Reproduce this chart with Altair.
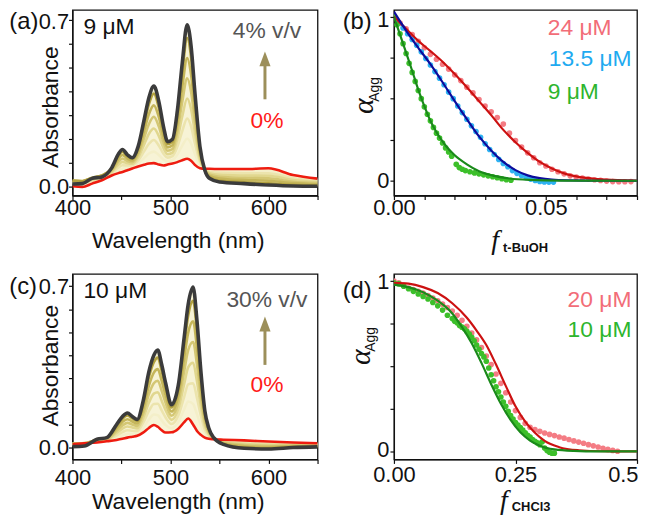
import altair as alt
import pandas as pd

FONT = "Liberation Sans"
SERIF = "Liberation Serif"

# ---------------- panel (a): 9 uM, t-BuOH 0 -> 4 % v/v ----------------
wl_a = [400, 410, 420, 430, 440, 447, 451, 456, 461, 467, 473, 478, 483, 488, 493,
        497, 502, 507, 512, 517, 521, 525, 530, 535, 540, 550, 575, 600, 625, 650]
red_a = [0.003, 0.000, 0.014, 0.028, 0.048, 0.058, 0.063, 0.070, 0.077, 0.086, 0.093, 0.098, 0.100, 0.094, 0.090,
         0.094, 0.098, 0.104, 0.112, 0.118, 0.110, 0.092, 0.078, 0.076, 0.076, 0.075, 0.075, 0.078, 0.050, 0.035]
gray_a = [0.012, 0.014, 0.036, 0.042, 0.080, 0.139, 0.157, 0.135, 0.122, 0.170, 0.280, 0.375, 0.423, 0.360, 0.250,
          0.190, 0.200, 0.320, 0.520, 0.680, 0.590, 0.390, 0.170, 0.070, 0.035, 0.021, 0.014, 0.008, 0.004, 0.003]
a_mid1 = [0.018, 0.012, 0.022, 0.034, 0.053, 0.070, 0.077, 0.080, 0.084, 0.099, 0.121, 0.140, 0.148, 0.134, 0.114,
          0.108, 0.113, 0.136, 0.173, 0.202, 0.182, 0.137, 0.092, 0.075, 0.070, 0.067, 0.066, 0.068, 0.043, 0.030]
a_mid2 = [0.021, 0.016, 0.026, 0.038, 0.058, 0.082, 0.091, 0.090, 0.091, 0.111, 0.149, 0.181, 0.197, 0.174, 0.138,
          0.123, 0.129, 0.169, 0.234, 0.287, 0.254, 0.181, 0.106, 0.074, 0.064, 0.059, 0.057, 0.057, 0.036, 0.025]
a_mid3 = [0.024, 0.020, 0.030, 0.042, 0.063, 0.094, 0.105, 0.099, 0.097, 0.124, 0.177, 0.223, 0.245, 0.214, 0.162,
          0.137, 0.144, 0.201, 0.296, 0.371, 0.326, 0.226, 0.119, 0.073, 0.058, 0.051, 0.048, 0.047, 0.029, 0.021]
a_mid4 = [0.026, 0.023, 0.034, 0.045, 0.068, 0.107, 0.119, 0.109, 0.104, 0.136, 0.205, 0.264, 0.294, 0.254, 0.186,
          0.152, 0.159, 0.234, 0.357, 0.455, 0.398, 0.271, 0.133, 0.072, 0.051, 0.043, 0.038, 0.036, 0.022, 0.016]
a_mid5 = [0.027, 0.025, 0.037, 0.048, 0.073, 0.119, 0.134, 0.119, 0.111, 0.149, 0.233, 0.306, 0.342, 0.294, 0.210,
          0.166, 0.175, 0.266, 0.418, 0.540, 0.470, 0.316, 0.147, 0.071, 0.045, 0.035, 0.029, 0.026, 0.016, 0.011]
a_mid6 = [0.026, 0.024, 0.039, 0.048, 0.078, 0.131, 0.148, 0.129, 0.118, 0.162, 0.261, 0.347, 0.391, 0.333, 0.234,
          0.180, 0.190, 0.298, 0.479, 0.624, 0.542, 0.360, 0.161, 0.070, 0.039, 0.026, 0.020, 0.015, 0.009, 0.006]

# ---------------- panel (c): 10 uM, CHCl3 0 -> 30 % v/v ----------------
wl_c = [400, 412, 425, 435, 445, 451, 456, 461, 466, 472, 478, 483, 487, 491, 495,
        501, 508, 514, 518, 523, 527, 531, 535, 539, 544, 554, 575, 600, 625, 650]
red_c = [0.014, 0.018, 0.022, 0.027, 0.033, 0.038, 0.043, 0.047, 0.051, 0.065, 0.085, 0.098, 0.090, 0.075, 0.065,
         0.066, 0.082, 0.110, 0.126, 0.100, 0.072, 0.055, 0.043, 0.038, 0.036, 0.034, 0.031, 0.026, 0.022, 0.019]
gray_c = [0.004, 0.007, 0.036, 0.043, 0.100, 0.135, 0.150, 0.135, 0.122, 0.200, 0.330, 0.400, 0.423, 0.360, 0.280,
          0.186, 0.272, 0.480, 0.620, 0.696, 0.550, 0.330, 0.160, 0.085, 0.043, 0.014, -0.003, -0.006, 0.000, 0.003]
c_mid1 = [0.016, 0.019, 0.025, 0.030, 0.043, 0.053, 0.059, 0.060, 0.062, 0.085, 0.122, 0.143, 0.140, 0.118, 0.097,
          0.084, 0.111, 0.166, 0.200, 0.189, 0.144, 0.096, 0.061, 0.045, 0.037, 0.031, 0.026, 0.021, 0.019, 0.017]
c_mid2 = [0.017, 0.020, 0.028, 0.032, 0.053, 0.067, 0.075, 0.073, 0.072, 0.106, 0.159, 0.189, 0.190, 0.161, 0.130,
          0.102, 0.139, 0.221, 0.274, 0.279, 0.215, 0.138, 0.078, 0.052, 0.038, 0.028, 0.021, 0.016, 0.015, 0.014]
c_mid3 = [0.018, 0.020, 0.031, 0.035, 0.063, 0.082, 0.091, 0.087, 0.083, 0.126, 0.195, 0.234, 0.240, 0.203, 0.162,
          0.120, 0.168, 0.277, 0.348, 0.368, 0.287, 0.179, 0.096, 0.059, 0.039, 0.025, 0.016, 0.012, 0.012, 0.012]
c_mid4 = [0.018, 0.019, 0.033, 0.037, 0.073, 0.096, 0.107, 0.100, 0.094, 0.146, 0.232, 0.279, 0.290, 0.246, 0.194,
          0.138, 0.196, 0.332, 0.422, 0.458, 0.359, 0.220, 0.113, 0.066, 0.040, 0.022, 0.011, 0.007, 0.009, 0.009]
c_mid5 = [0.017, 0.017, 0.035, 0.040, 0.083, 0.111, 0.123, 0.113, 0.104, 0.166, 0.269, 0.325, 0.340, 0.289, 0.226,
          0.156, 0.225, 0.388, 0.497, 0.547, 0.431, 0.261, 0.131, 0.073, 0.041, 0.019, 0.006, 0.002, 0.006, 0.007]
c_mid6 = [0.015, 0.014, 0.036, 0.042, 0.093, 0.125, 0.139, 0.126, 0.115, 0.187, 0.306, 0.370, 0.390, 0.332, 0.259,
          0.174, 0.253, 0.443, 0.571, 0.636, 0.502, 0.303, 0.148, 0.080, 0.042, 0.016, 0.000, -0.003, 0.002, 0.004]

# ---------------- panel (b): alpha_Agg vs f(t-BuOH) ----------------
b24_f = [0.000, 0.002, 0.004, 0.006, 0.008, 0.010, 0.012, 0.014, 0.016, 0.018, 0.020, 0.022, 0.024, 0.026,
         0.028, 0.030, 0.032, 0.034, 0.036, 0.038, 0.040, 0.042, 0.044, 0.046, 0.048, 0.050, 0.052, 0.054,
         0.056, 0.058, 0.060, 0.062, 0.064, 0.066, 0.068, 0.070, 0.072, 0.074, 0.076, 0.078]
b24_a = [1.000, 0.960, 0.925, 0.890, 0.850, 0.810, 0.770, 0.740, 0.710, 0.680, 0.645, 0.610, 0.570, 0.535,
         0.495, 0.455, 0.420, 0.385, 0.345, 0.290, 0.245, 0.205, 0.170, 0.140, 0.110, 0.090, 0.070, 0.055,
         0.042, 0.030, 0.022, 0.016, 0.010, 0.006, 0.002, -0.002, -0.005, -0.006, -0.006, -0.005]
b13_f = [0.0000, 0.0015, 0.0030, 0.0045, 0.0060, 0.0075, 0.0090, 0.0105, 0.0120, 0.0135, 0.0150, 0.0165,
         0.0180, 0.0195, 0.0210, 0.0225, 0.0240, 0.0255, 0.0270, 0.0285, 0.0300, 0.0315, 0.0330, 0.0345,
         0.0360, 0.0375, 0.0390, 0.0405, 0.0420, 0.0435, 0.0450, 0.0465, 0.0480, 0.0495, 0.0510, 0.0525]
b13_a = [1.000, 0.960, 0.930, 0.895, 0.860, 0.825, 0.785, 0.745, 0.705, 0.665, 0.625, 0.585,
         0.540, 0.500, 0.455, 0.415, 0.375, 0.335, 0.300, 0.265, 0.225, 0.190, 0.160, 0.130,
         0.105, 0.085, 0.062, 0.045, 0.032, 0.020, 0.010, 0.002, -0.004, -0.007, -0.008, -0.008]
b9_f = [0.000, 0.001, 0.002, 0.003, 0.004, 0.005, 0.006, 0.007, 0.008, 0.009, 0.010, 0.011, 0.012,
        0.013, 0.014, 0.015, 0.016, 0.017, 0.018, 0.019, 0.0205, 0.0215, 0.0225, 0.0235, 0.025, 0.0265,
        0.028, 0.0295, 0.031, 0.0325, 0.034, 0.0355, 0.037, 0.0385]
b9_a = [1.000, 0.950, 0.895, 0.835, 0.775, 0.715, 0.660, 0.605, 0.550, 0.500, 0.450, 0.405, 0.365,
        0.325, 0.290, 0.260, 0.230, 0.200, 0.175, 0.150, 0.100, 0.080, 0.070, 0.062, 0.055, 0.048,
        0.042, 0.036, 0.030, 0.024, 0.018, 0.012, 0.006, 0.003]
fit24_f = [0.000, 0.004, 0.008, 0.012, 0.016, 0.020, 0.024, 0.028, 0.032, 0.036, 0.040, 0.044, 0.048,
           0.052, 0.056, 0.060, 0.066, 0.072, 0.080]
fit24_a = [1.000, 0.925, 0.852, 0.790, 0.725, 0.650, 0.570, 0.485, 0.400, 0.310, 0.235, 0.170, 0.115,
           0.075, 0.045, 0.027, 0.012, 0.005, 0.001]
fit13_f = [0.000, 0.004, 0.008, 0.012, 0.016, 0.020, 0.024, 0.028, 0.032, 0.036, 0.040, 0.044, 0.048,
           0.052, 0.058, 0.066, 0.080]
fit13_a = [1.030, 0.915, 0.810, 0.710, 0.600, 0.485, 0.375, 0.270, 0.185, 0.115, 0.065, 0.033, 0.016,
           0.007, 0.002, 0.000, 0.000]
fit9_f = [0.000, 0.002, 0.004, 0.006, 0.008, 0.010, 0.012, 0.014, 0.017, 0.020, 0.024, 0.028, 0.033,
          0.038, 0.045, 0.055, 0.080]
fit9_a = [1.000, 0.890, 0.780, 0.670, 0.555, 0.455, 0.365, 0.295, 0.215, 0.155, 0.100, 0.058, 0.030,
          0.014, 0.005, 0.001, 0.000]

# ---------------- panel (d): alpha_Agg vs f(CHCl3) ----------------
d20_f = [0.00, 0.01, 0.02, 0.03, 0.04, 0.05, 0.06, 0.07, 0.08, 0.09, 0.10, 0.11, 0.12, 0.13, 0.14, 0.15,
         0.16, 0.17, 0.18, 0.19, 0.20, 0.21, 0.22, 0.23, 0.24, 0.25, 0.26, 0.27, 0.28, 0.29, 0.30, 0.31,
         0.32, 0.33, 0.34, 0.35, 0.36, 0.37, 0.38, 0.39, 0.40, 0.41, 0.42, 0.43, 0.44, 0.45, 0.46]
d20_a = [1.000, 0.990, 0.975, 0.960, 0.950, 0.940, 0.930, 0.915, 0.900, 0.885, 0.865, 0.845, 0.825, 0.800,
         0.770, 0.735, 0.695, 0.655, 0.610, 0.560, 0.510, 0.455, 0.400, 0.345, 0.290, 0.240, 0.200, 0.165,
         0.142, 0.128, 0.118, 0.108, 0.100, 0.093, 0.085, 0.078, 0.070, 0.062, 0.055, 0.048, 0.040, 0.033,
         0.026, 0.019, 0.012, 0.006, 0.001]
d10_f = [0.00, 0.01, 0.02, 0.03, 0.04, 0.05, 0.06, 0.07, 0.08, 0.09, 0.10, 0.11, 0.12, 0.125, 0.13, 0.135,
         0.14, 0.145, 0.15, 0.155, 0.16, 0.165, 0.17, 0.175, 0.18, 0.185, 0.19, 0.195, 0.20, 0.205, 0.21,
         0.215, 0.22, 0.225, 0.23, 0.235, 0.24, 0.245, 0.25, 0.255, 0.26, 0.265, 0.27, 0.275, 0.28, 0.285,
         0.29, 0.295, 0.30, 0.305, 0.31, 0.315, 0.32, 0.325, 0.33]
d10_a = [0.990, 0.985, 0.970, 0.955, 0.940, 0.925, 0.910, 0.895, 0.875, 0.855, 0.830, 0.800, 0.780, 0.765,
         0.755, 0.740, 0.730, 0.720, 0.705, 0.690, 0.670, 0.650, 0.625, 0.600, 0.575, 0.555, 0.530, 0.490,
         0.450, 0.415, 0.380, 0.350, 0.320, 0.290, 0.265, 0.235, 0.210, 0.190, 0.170, 0.155, 0.140, 0.125,
         0.110, 0.095, 0.085, 0.070, 0.060, 0.050, 0.040, 0.057, 0.020, 0.005, -0.005, -0.010, -0.010]
fit20_f = [0.00, 0.03, 0.06, 0.09, 0.12, 0.15, 0.17, 0.19, 0.21, 0.23, 0.25, 0.27, 0.29, 0.31, 0.34,
           0.38, 0.43, 0.50]
fit20_a = [0.990, 0.985, 0.965, 0.930, 0.870, 0.785, 0.710, 0.625, 0.510, 0.385, 0.265, 0.175, 0.110,
           0.062, 0.025, 0.007, 0.001, 0.000]
fit10_f = [0.00, 0.03, 0.06, 0.09, 0.12, 0.14, 0.16, 0.18, 0.20, 0.22, 0.24, 0.26, 0.28, 0.30, 0.33,
           0.37, 0.42, 0.50]
fit10_a = [0.980, 0.965, 0.935, 0.885, 0.810, 0.730, 0.635, 0.520, 0.395, 0.280, 0.185, 0.112, 0.064,
           0.034, 0.012, 0.003, 0.000, 0.000]

# ---------------- tick values ----------------
wl_ticks = [400, 450, 500, 550, 600, 650]
abs_ticks = [0.0, 0.1, 0.2, 0.3, 0.4, 0.5, 0.6, 0.7]
alpha_ticks = [0.0, 0.25, 0.5, 0.75, 1.0]
fb_ticks = [0.0, 0.01, 0.02, 0.03, 0.04, 0.05, 0.06, 0.07, 0.08]
fd_ticks = [0.0, 0.25, 0.5]

MID_COLORS = ["#f4efc9", "#ece4ad", "#e1d78f", "#d4c774", "#c5b65a", "#b3a23f"]
RED = "#ee1c10"
GRAY = "#3b3b3b"
ARROW = "#9c8f5a"
W1, W2, H = 247, 245, 187


def txt(s, x, y, size=23, color="#111111", align="left", baseline="middle", angle=0,
        font=FONT, style="normal", weight="normal"):
    return alt.Chart(pd.DataFrame({"s": [s]})).mark_text(
        align=align, baseline=baseline, fontSize=size, color=color, font=font,
        fontStyle=style, fontWeight=weight, angle=angle
    ).encode(x=alt.value(x), y=alt.value(y), text="s:N")


def arrow(x, y_bottom, y_top):
    shaft = alt.Chart(pd.DataFrame({"k": [0]})).mark_rule(color=ARROW, strokeWidth=3).encode(
        x=alt.value(x), y=alt.value(y_bottom), y2=alt.value(y_top + 12))
    head = alt.Chart(pd.DataFrame({"k": [0]})).mark_point(
        shape="M0,-1L0.75,1L-0.75,1Z", filled=True, color=ARROW, opacity=1, size=225, strokeWidth=0
    ).encode(x=alt.value(x), y=alt.value(y_top + 7.5))
    return [shaft, head]


def spectra_panel(wl, red, gray, mids, ydom, tag, conc, top_txt, lp, t):
    xax = alt.Axis(values=wl_ticks, format="d", title=None, labelPadding=lp,
                   labelExpr="datum.value % 100 === 0 ? datum.label : ''")
    yax = alt.Axis(values=abs_ticks, title=None, labelPadding=0,
                   labelExpr="datum.value < 0.01 ? '0.0' : (abs(datum.value - 0.7) < 0.001 ? '0.7' : '')",
                   labelOffset={"condition": {"test": "datum.value > 0.65", "value": t["top_off"]}, "value": 0})
    X = alt.X("wl:Q", scale=alt.Scale(domain=[400, 650], nice=False, zero=False), axis=xax)
    Y = alt.Y("A:Q", scale=alt.Scale(domain=ydom, nice=False, zero=False), axis=yax)
    layers = []
    band = pd.DataFrame({"wl": wl, "A": red, "hi": gray})
    layers.append(alt.Chart(band).mark_area(color="#f7f3d6", interpolate="monotone", clip=True)
                  .encode(x=X, y=Y, y2="hi:Q"))
    for vals, col in zip(mids, MID_COLORS):
        layers.append(alt.Chart(pd.DataFrame({"wl": wl, "A": vals}))
                      .mark_line(color=col, strokeWidth=2.6, interpolate="monotone", clip=True)
                      .encode(x=X, y=Y))
    layers.append(alt.Chart(pd.DataFrame({"wl": wl, "A": red}))
                  .mark_line(color=RED, strokeWidth=2.6, interpolate="monotone", clip=True)
                  .encode(x=X, y=Y))
    layers.append(alt.Chart(pd.DataFrame({"wl": wl, "A": gray}))
                  .mark_line(color=GRAY, strokeWidth=3.6, interpolate="monotone", clip=True)
                  .encode(x=X, y=Y))
    layers += [
        txt(tag, -63.7, t["tag_y"], size=24),
        txt(conc, 11, 17.5),
        txt(top_txt, 196, t["top_y"], align="center", color="#555555"),
        txt("0%", 196, t["zero_y"], align="center", color="#ff1a1a"),
        txt("Absorbance", -22, t["abs_y"], angle=270, align="center"),
        txt("Wavelength (nm)", 106.6, t["wl_y"], align="center"),
    ]
    layers += arrow(194, t["arr_b"], t["arr_t"])
    return alt.layer(*layers).properties(width=W1, height=H)


def alpha_panel(series, fits, xdom, xax, ydom, tag, legends, t, sub):
    yax = alt.Axis(values=alpha_ticks, title=None, labelPadding=1,
                   labelExpr="datum.value < 0.01 ? '0' : (datum.value > 0.99 ? '1' : '')",
                   labelOffset={"condition": {"test": "datum.value > 0.99", "value": t["top_off"]},
                                "value": t["zero_off"]})
    X = alt.X("f:Q", scale=alt.Scale(domain=xdom, nice=False, zero=False), axis=xax)
    Y = alt.Y("a:Q", scale=alt.Scale(domain=ydom, nice=False, zero=False), axis=yax)
    layers = []
    for f, a, col in series:
        layers.append(alt.Chart(pd.DataFrame({"f": f, "a": a}))
                      .mark_circle(color=col, size=32, opacity=1, clip=True).encode(x=X, y=Y))
    for f, a, col in fits:
        layers.append(alt.Chart(pd.DataFrame({"f": f, "a": a}))
                      .mark_line(color=col, strokeWidth=2.2, interpolate="monotone", clip=True)
                      .encode(x=X, y=Y))
    layers.append(txt(tag, -51.7, t["tag_y"], size=24))
    for s, x, y, col in legends:
        layers.append(txt(s, x, y, color=col))
    layers += [
        txt("α", t["al_x"], t["al_y"], size=30, angle=270, align="center", font=SERIF, style="italic"),
        txt("Agg", t["agg_x"], t["agg_y"], size=14, angle=270, align="center"),
        txt("f", t["f_x"], t["f_y"], size=28, align="center", font=SERIF, style="italic"),
        txt(sub, t["f_x"] + 8, t["sub_y"], size=13, weight="bold"),
    ]
    return alt.layer(*layers).properties(width=W2, height=H)


pa = spectra_panel(wl_a, red_a, gray_a, [a_mid1, a_mid2, a_mid3, a_mid4, a_mid5, a_mid6],
                   [-0.036, 0.7416], "(a)", "9 μM", "4% v/v", -2,
                   dict(tag_y=12, top_y=21.7, zero_y=112, abs_y=98, wl_y=H + 45.8, arr_b=90, arr_t=41.7,
                        top_off=1.5))
pc = spectra_panel(wl_c, red_c, gray_c, [c_mid1, c_mid2, c_mid3, c_mid4, c_mid5, c_mid6],
                   [-0.0516, 0.753], "(c)", "10 μM", "30% v/v", 4,
                   dict(tag_y=13, top_y=26.7, zero_y=111.7, abs_y=92.5, wl_y=H + 43.3, arr_b=91.7, arr_t=43,
                        top_off=0))

xb = alt.Axis(values=fb_ticks, title=None, labelPadding=-2,
              labelExpr="datum.value < 0.001 ? '0.00' : (abs(datum.value - 0.05) < 0.001 ? '0.05' : '')")
pb = alpha_panel(
    [(b24_f, b24_a, "#f47c84"), (b13_f, b13_a, "#2eb2f2"), (b9_f, b9_a, "#3cbf2a")],
    [(fit24_f, fit24_a, "#cc1111"), (fit13_f, fit13_a, "#0c0c9c"), (fit9_f, fit9_a, "#1a8a1a")],
    [0, 0.08], xb, [-0.09, 1.04], "(b)",
    [("24 μM", 155, 18.3, "#f26d78"), ("13.5 μM", 156, 49, "#1eaaf0"), ("9 μM", 155, 83, "#2db52d")],
    dict(tag_y=12, al_x=-30, al_y=97, agg_x=-18.7, agg_y=80, f_x=102, f_y=233, sub_y=240,
         top_off=3, zero_off=0),
    "t-BuOH")

xd = alt.Axis(values=fd_ticks, title=None, labelPadding=1,
              labelExpr="datum.value < 0.001 ? '0.00' : (datum.value < 0.3 ? '0.25' : '0.5')",
              labelAlign={"condition": {"test": "datum.value > 0.4", "value": "right"}, "value": "center"},
              labelOffset={"condition": {"test": "datum.value > 0.4", "value": 1}, "value": 0})
pd_ = alpha_panel(
    [(d20_f, d20_a, "#f47c84"), (d10_f, d10_a, "#3cbf2a")],
    [(fit20_f, fit20_a, "#cc1111"), (fit10_f, fit10_a, "#1a8a1a")],
    [0, 0.5], xd, [-0.047, 1.0425], "(d)",
    [("20 μM", 175, 26.7, "#f26d78"), ("10 μM", 175, 56.7, "#2db52d")],
    dict(tag_y=17.5, al_x=-32.7, al_y=84, agg_x=-22.7, agg_y=66, f_x=110.8, f_y=229, sub_y=235,
         top_off=0, zero_off=-2),
    "CHCl3")

row1 = alt.hconcat(pa, pb, spacing=22)
row2 = alt.hconcat(pc, pd_, spacing=22)
chart = alt.vconcat(row1, row2, spacing=13).properties(
    padding={"left": 0, "right": 0, "top": -3, "bottom": 0}
).configure_view(stroke="#111111", strokeWidth=1.3).configure_axis(
    grid=False, domainColor="#111111", tickColor="#111111", labelColor="#111111",
    labelFont=FONT, labelFontSize=22, tickSize=4, tickWidth=1.2, domainWidth=1.2,
    labelOverlap=False, labelFlush=False
)

chart.save("out.html", embed_options={"renderer": "svg", "actions": False})
